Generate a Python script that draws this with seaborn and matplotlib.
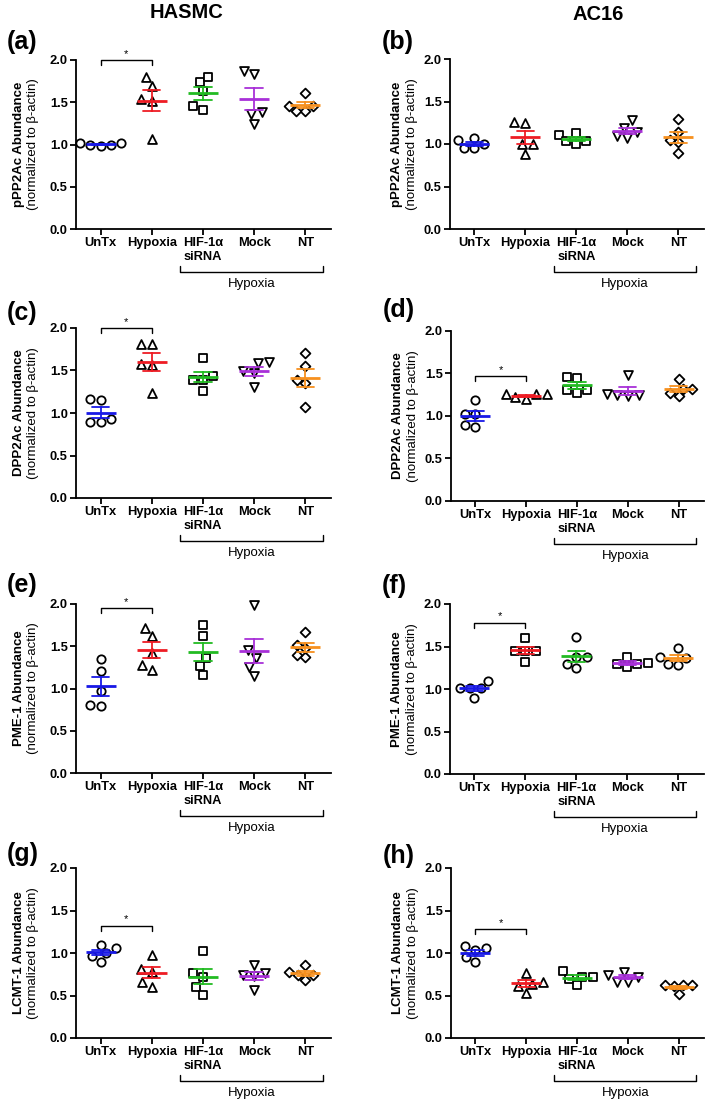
import numpy as np
import pandas as pd
import matplotlib
matplotlib.use("Agg")
import matplotlib.pyplot as plt
import seaborn as sns

sns.set_style("ticks")
plt.rcParams["font.family"] = ["Liberation Sans", "DejaVu Sans"]
plt.rcParams.update({"text.color": "black", "axes.labelcolor": "black",
                     "xtick.color": "black", "ytick.color": "black",
                     "axes.edgecolor": "black"})

groups = ["UnTx", "Hypoxia", "HIF-1α\nsiRNA", "Mock", "NT"]
colors = ["#1818e6", "#ee1c24", "#22bb22", "#a830d8", "#f7901e"]

letters = ["(a)", "(b)", "(c)", "(d)", "(e)", "(f)", "(g)", "(h)"]
proteins = ["pPP2Ac", "pPP2Ac", "DPP2Ac", "DPP2Ac", "PME-1", "PME-1", "LCMT-1", "LCMT-1"]
col_titles = ["HASMC", "AC16"]

# values, five replicates per group
a_vals = [[0.99, 1.02, 1.00, 1.02, 0.98], [1.80, 1.69, 1.51, 1.54, 1.06],
          [1.74, 1.80, 1.63, 1.41, 1.45], [1.83, 1.87, 1.36, 1.24, 1.39],
          [1.61, 1.40, 1.46, 1.40, 1.46]]
b_vals = [[1.07, 0.95, 1.00, 1.05, 0.95], [1.25, 1.26, 1.00, 0.88, 1.00],
          [1.11, 1.00, 1.03, 1.04, 1.13], [1.19, 1.07, 1.14, 1.28, 1.10],
          [1.29, 1.14, 1.02, 0.89, 1.05]]
c_vals = [[1.16, 1.15, 0.93, 0.89, 0.89], [1.81, 1.81, 1.56, 1.58, 1.24],
          [1.65, 1.43, 1.39, 1.39, 1.26], [1.59, 1.60, 1.47, 1.31, 1.49],
          [1.71, 1.55, 1.39, 1.07, 1.35]]
d_vals = [[1.19, 1.02, 0.87, 0.89, 1.02], [1.22, 1.26, 1.26, 1.26, 1.20],
          [1.46, 1.27, 1.31, 1.45, 1.31], [1.48, 1.23, 1.26, 1.25, 1.25],
          [1.32, 1.23, 1.32, 1.43, 1.27]]
e_vals = [[1.35, 1.21, 0.97, 0.79, 0.81], [1.72, 1.62, 1.42, 1.22, 1.28],
          [1.75, 1.62, 1.36, 1.27, 1.16], [1.99, 1.45, 1.36, 1.26, 1.15],
          [1.67, 1.37, 1.48, 1.52, 1.40]]
f_vals = [[1.10, 1.01, 0.90, 1.01, 1.01], [1.60, 1.45, 1.32, 1.45, 1.45],
          [1.61, 1.38, 1.25, 1.30, 1.38], [1.38, 1.31, 1.26, 1.29, 1.30],
          [1.38, 1.28, 1.36, 1.48, 1.30]]
g_vals = [[1.10, 0.90, 1.00, 1.06, 0.97], [0.81, 0.60, 0.98, 0.78, 0.66],
          [1.02, 0.72, 0.60, 0.51, 0.76], [0.76, 0.86, 0.74, 0.57, 0.73],
          [0.78, 0.68, 0.74, 0.86, 0.74]]
h_vals = [[1.08, 0.89, 1.04, 1.06, 0.95], [0.66, 0.53, 0.64, 0.77, 0.61],
          [0.72, 0.72, 0.62, 0.79, 0.70], [0.66, 0.72, 0.74, 0.78, 0.66],
          [0.62, 0.52, 0.62, 0.61, 0.62]]
panel_vals = [a_vals, b_vals, c_vals, d_vals, e_vals, f_vals, g_vals, h_vals]

# height of the UnTx vs Hypoxia significance bar (none in panel b)
sig_y = [2.0, None, 2.0, 1.47, 1.95, 1.78, 1.32, 1.28]

markers_default = ["o", "^", "s", "v", "D"]
markers_f = ["o", "s", "o", "s", "o"]
msize = {"o": 6.0, "^": 6.4, "s": 5.8, "v": 6.4, "D": 5.0}

W, H = 709, 1105
# axes boxes in pixels: left, right, top (y=2), bottom (y=0)
boxes = [(76, 331, 60, 229), (450, 704, 59, 229),
         (76, 331, 328, 498), (451, 704, 331, 501),
         (76, 331, 604, 773), (450, 704, 604, 774),
         (76, 331, 868, 1038), (451, 704, 868, 1038)]
letter_pos = [(7, 42), (382, 42), (7, 313), (383, 310),
              (7, 585), (382, 586), (7, 854), (383, 856)]

fig = plt.figure(figsize=(W / 100, H / 100), dpi=100)

for i, vals in enumerate(panel_vals):
    l, r, t, b = boxes[i]
    ax = fig.add_axes([l / W, 1 - b / H, (r - l) / W, (b - t) / H])
    df = pd.DataFrame({"group": np.repeat(groups, 5),
                       "value": np.concatenate(vals)})
    marks = markers_f if i == 5 else markers_default

    for g, m in zip(groups, marks):
        sns.swarmplot(data=df[df["group"] == g], x="group", y="value",
                      order=groups, marker=m, size=msize[m], color="white",
                      edgecolor="black", linewidth=1.3, ax=ax)

    sns.pointplot(data=df, x="group", y="value", hue="group", order=groups,
                  hue_order=groups, palette=colors, errorbar="se",
                  capsize=0.34, markers="_", markersize=21,
                  markeredgewidth=2.0, linestyle="none", dodge=False,
                  err_kws={"linewidth": 1.3}, legend=False, ax=ax)

    for c in ax.collections:
        c.set_clip_on(False)
        c.set_zorder(2)
    for ln in ax.lines:
        ln.set_clip_on(False)
        ln.set_zorder(3)

    ax.set_xlim(-0.48, 4.5)
    ax.set_ylim(0, 2.0)
    ax.set_yticks([0, 0.5, 1.0, 1.5, 2.0])
    ax.set_yticklabels(["0.0", "0.5", "1.0", "1.5", "2.0"])
    ax.set_xlabel("")
    ax.set_ylabel("")
    for s in ["top", "right"]:
        ax.spines[s].set_visible(False)
    for s in ["left", "bottom"]:
        ax.spines[s].set_linewidth(1.3)
    ax.tick_params(direction="out", length=4, width=1.3, pad=2,
                   labelsize=9.3)
    for lab in ax.get_xticklabels() + ax.get_yticklabels():
        lab.set_fontweight("bold")

    # two-line y label, first line bold
    off1, off2 = (-57, -43) if i % 2 == 0 else (-53, -38)
    ax.annotate(proteins[i] + " Abundance", xy=(0, 0.5), xycoords="axes fraction",
                xytext=(off1, 0), textcoords="offset pixels", rotation=90,
                ha="center", va="center", fontsize=9.5, fontweight="bold")
    ax.annotate("(normalized to β-actin)", xy=(0, 0.5), xycoords="axes fraction",
                xytext=(off2, 0), textcoords="offset pixels", rotation=90,
                ha="center", va="center", fontsize=9.5)

    # significance bar
    if sig_y[i] is not None:
        y = sig_y[i]
        ax.plot([0, 0, 1, 1], [y - 0.06, y, y, y - 0.06], color="black",
                lw=1.0, clip_on=False)
        ax.text(0.5, y + 0.015, "*", ha="center", va="bottom", fontsize=8)

    # hypoxia bracket under the treated groups
    by = -0.51
    ax.plot([1.55, 1.55, 4.35, 4.35], [by + 0.07, by, by, by + 0.07],
            color="black", lw=1.0, clip_on=False)
    ax.text(2.95, by - 0.14, "Hypoxia", ha="center", va="center", fontsize=9.5)

    lx, ly = letter_pos[i]
    fig.text(lx / W, 1 - ly / H, letters[i], ha="left", va="center",
             fontsize=18, fontweight="bold")

fig.text(187 / W, 1 - 13 / H, col_titles[0], ha="center", va="center",
         fontsize=14.5, fontweight="bold")
fig.text(598 / W, 1 - 14 / H, col_titles[1], ha="center", va="center",
         fontsize=14.5, fontweight="bold")

fig.savefig("out.png", dpi=100)
